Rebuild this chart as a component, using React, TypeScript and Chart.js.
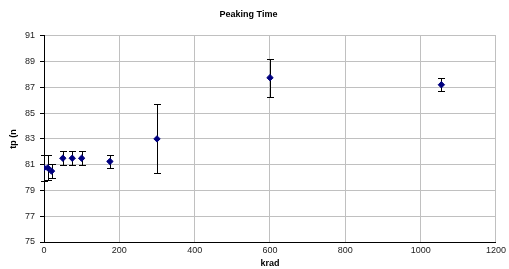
import React, { useEffect, useRef } from "react";
import { Chart, registerables } from "chart.js";

Chart.register(...registerables);

const doses = [0, 10, 20, 50, 75, 100, 175, 300, 600, 1055];
const peakTime = [80.75, 80.75, 80.5, 81.5, 81.5, 81.5, 81.25, 83.0, 87.75, 87.2];
const errLow = [79.75, 79.8, 79.95, 81.0, 81.0, 81.0, 80.77, 80.33, 86.25, 86.7];
const errHigh = [81.75, 81.75, 81.08, 82.05, 82.05, 82.05, 81.72, 85.7, 89.2, 87.7];

const chartTitle = "Peaking Time";
const xTitle = "krad";
const yTitle = "tp (n";

const errorBarPlugin = {
  id: "errorBars",
  beforeDatasetsDraw(chart: any) {
    const { ctx, scales } = chart;
    const xs = scales.x;
    const ys = scales.y;
    ctx.save();
    ctx.strokeStyle = "#000000";
    ctx.lineWidth = 1;
    for (let i = 0; i < doses.length; i++) {
      const x = Math.round(xs.getPixelForValue(doses[i])) + 0.5;
      const yl = Math.round(ys.getPixelForValue(errLow[i])) + 0.5;
      const yh = Math.round(ys.getPixelForValue(errHigh[i])) + 0.5;
      ctx.beginPath();
      ctx.moveTo(x, yl);
      ctx.lineTo(x, yh);
      ctx.moveTo(x - 3.5, yl);
      ctx.lineTo(x + 3.5, yl);
      ctx.moveTo(x - 3.5, yh);
      ctx.lineTo(x + 3.5, yh);
      ctx.stroke();
    }
    ctx.restore();
  },
};

export default function App() {
  const ref = useRef<HTMLCanvasElement | null>(null);
  useEffect(() => {
    document.body.style.margin = "0";
    const canvas = ref.current;
    if (!canvas) return;
    const font = "'Liberation Sans', Arial, sans-serif";
    const chart = new Chart(canvas, {
      type: "scatter",
      data: {
        datasets: [
          {
            data: doses.map((d, i) => ({ x: d, y: peakTime[i] })),
            backgroundColor: "#000080",
            borderColor: "#000080",
            pointStyle: "rectRot",
            pointRadius: 3.2,
            borderWidth: 1,
          },
        ],
      },
      options: {
        animation: false,
        responsive: false,
        devicePixelRatio: 1,
        layout: { padding: { top: 0, right: 12, bottom: 0, left: 0 } },
        plugins: {
          legend: { display: false },
          tooltip: { enabled: false },
          title: {
            display: true,
            text: chartTitle,
            color: "#000000",
            font: { family: font, size: 9, weight: "bold" },
            padding: { top: 9, bottom: 16 },
          },
        },
        scales: {
          x: {
            type: "linear",
            min: 0,
            max: 1200,
            ticks: {
              stepSize: 200,
              color: "#222222",
              font: { family: font, size: 9 },
              padding: 3,
              maxRotation: 0,
              callback: (v: any) => String(v),
            },
            grid: {
              color: "#c0c0c0",
              lineWidth: 1,
              drawTicks: false,
            },
            border: { color: "#000000", width: 1 },
            title: {
              display: true,
              text: xTitle,
              color: "#000000",
              font: { family: font, size: 9, weight: "bold" },
              padding: { top: 2, bottom: 0 },
            },
            afterFit: (s: any) => {
              s.height = 27;
            },
          },
          y: {
            type: "linear",
            min: 75,
            max: 91,
            ticks: {
              stepSize: 2,
              color: "#222222",
              font: { family: font, size: 9 },
              padding: 5,
              callback: (v: any) => String(v),
            },
            grid: {
              color: "#c0c0c0",
              lineWidth: 1,
              tickLength: 4,
              tickColor: "#000000",
            },
            border: { color: "#000000", width: 1 },
            title: {
              display: true,
              text: yTitle,
              color: "#000000",
              font: { family: font, size: 9, weight: "bold" },
              padding: { top: 8, bottom: 0 },
            },
            afterFit: (s: any) => {
              s.width = 44;
            },
          },
        },
      },
      plugins: [errorBarPlugin],
    } as any);
    return () => chart.destroy();
  }, []);
  return (
    <div style={{ width: 509, height: 269 }}>
      <canvas ref={ref} width={509} height={269} style={{ display: "block" }} />
    </div>
  );
}
